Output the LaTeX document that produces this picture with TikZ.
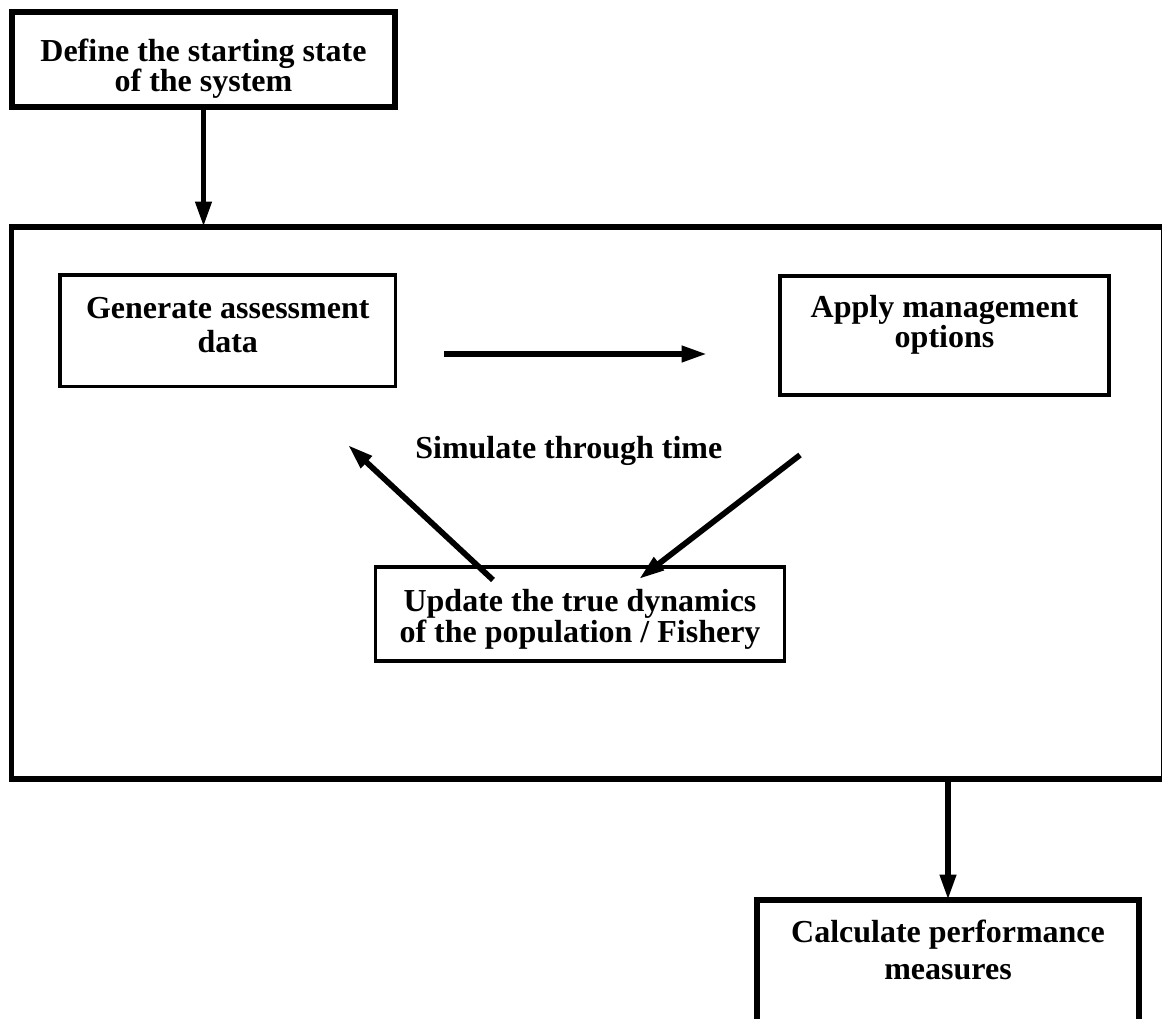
\documentclass[tikz,border=0pt]{standalone}
\usepackage{fontspec}
\setmainfont{Liberation Serif}
\usetikzlibrary{arrows.meta,positioning}
\tikzset{>={Triangle[length=19pt,width=11.5pt]}}

\begin{document}
\begin{tikzpicture}[
    x=0.75pt, y=-0.75pt,
    heavybox/.style={rectangle, draw, line width=4.3pt, align=center, outer sep=0pt, text depth=0pt},
    stage/.style={rectangle, draw, line width=2.4pt, align=center, outer sep=0pt, text depth=0pt},
    lines/.style={font={\fontsize{24}{#1}\selectfont\bfseries\lineskiplimit -50pt}},
    flow/.style={->, line width=4.3pt}
]
    \useasboundingbox (0,0) rectangle (1162,1019);

    \node[heavybox, lines=22.5, minimum width=287.25pt, minimum height=71.25pt, text height=48pt] (define) at (203.5,59.5) {Define the starting state\\of the system};
    \node[draw, line width=4.3pt, outer sep=0pt, minimum width=864pt, minimum height=414pt] (loop) at (587.5,503) {};

    \node[stage, lines=25.8, minimum width=251.6pt, minimum height=83.6pt, text height=32.9pt] (gen) at (227.75,330.75) {Generate assessment\\data};
    \node[stage, lines=23, minimum width=246.75pt, minimum height=89.25pt, text height=18.5pt] (apply) at (944.5,335.5) {Apply management\\options};
    \node[stage, lines=23, minimum width=306.5pt, minimum height=70.5pt, text height=42pt] (upd) at (580,614) {Update the true dynamics\\of the population / Fishery};
    \node[anchor=base, lines=24] (simulate) at (568.8,458.3) {Simulate through time};

    \node[heavybox, lines=28, minimum width=286.7pt, minimum height=97.5pt, text height=21.5pt] (calc) at (948,965) {Calculate performance\\measures};

    \coordinate (fwd-from) at (444,354);
    \coordinate (fwd-to) at (707,354);
    \coordinate (back-from) at (493,580);
    \coordinate (back-to) at (348,445);
    \coordinate (down-from) at (800,455);
    \coordinate (down-to) at (639,579);

    \draw[flow] (define.south) -- (define.south |- loop.north);
    \draw[flow] (fwd-from) -- (fwd-to);
    \draw[flow] (back-from) -- (back-to);
    \draw[flow] (down-from) -- (down-to);
    \draw[flow] (loop.south -| calc.north) -- (calc.north);
\end{tikzpicture}
\end{document}
